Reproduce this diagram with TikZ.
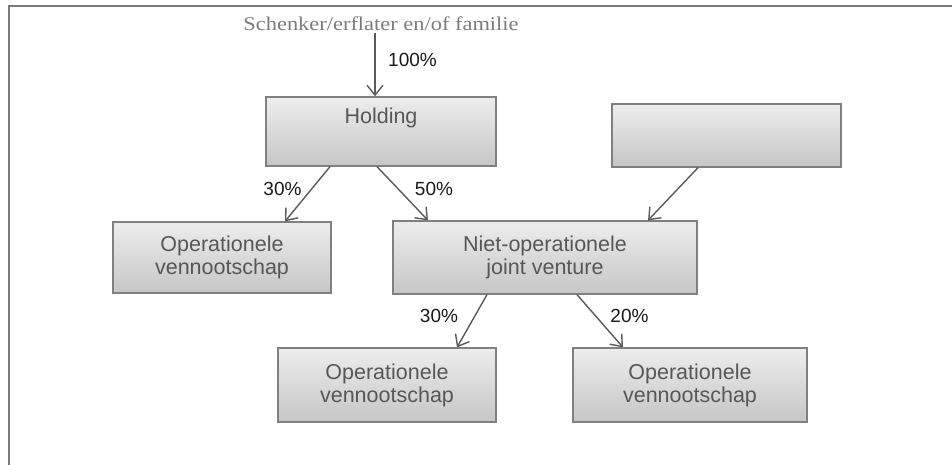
\documentclass[tikz,border=0pt]{standalone}
\usepackage{fontspec}
\setmainfont{Liberation Sans}
\newfontfamily\titlefont[FakeStretch=1.15]{Liberation Serif}
\usetikzlibrary{arrows.meta,shadows,calc}
\definecolor{frameline}{HTML}{7A7A7A}
\definecolor{boxline}{HTML}{808080}
\definecolor{boxtop}{HTML}{EDEDED}
\definecolor{boxbot}{HTML}{C6C6C6}
\definecolor{boxtextcol}{HTML}{575757}
\definecolor{conncol}{HTML}{5A5A5A}
\definecolor{titlecol}{HTML}{7C7C7C}
\tikzset{
  box/.style={draw=boxline, line width=1.3pt, top color=boxtop, bottom color=boxbot,
    inner sep=0pt, align=center, text=boxtextcol,
    font=\fontsize{21.5}{23}\selectfont,
    drop shadow={shadow xshift=0.8pt, shadow yshift=-1.2pt, opacity=0.35, fill=black}},
  boxtext/.style={text=boxtextcol, font=\fontsize{21.5}{23}\selectfont, inner sep=0pt},
  pct/.style={text=black!90, font=\fontsize{19}{21}\selectfont, inner sep=0pt},
  titletext/.style={text=titlecol, font=\titlefont\fontsize{19.5}{21}\selectfont, inner sep=0pt},
  conn/.style={draw=conncol, line width=1.4pt,
    -{Straight Barb[length=10pt, width=16pt, line width=1.4pt]}}
}
\begin{document}
\begin{tikzpicture}[x=1pt, y=-1pt]
\useasboundingbox (0,0) rectangle (952,465);
% page frame
\draw[frameline, line width=2pt] (9,465) -- (9,6.5) -- (952,6.5);

% owner
\node[titletext, anchor=base] (src) at (381,31) {Schenker/erflater en/of familie};

% boxes
\node[box, minimum width=230pt, minimum height=69pt] (hold) at (381,131.5) {};
\node[boxtext, anchor=base] (holdtxt) at (381,124) {Holding};
\node[box, minimum width=229pt, minimum height=63pt] (other) at (726.5,135.5) {};
\node[box, minimum width=218pt, minimum height=71pt] (op1) at (222,257.5) {Operationele\\vennootschap};
\node[box, minimum width=304pt, minimum height=73pt] (jv) at (545,257.5) {Niet-operationele\\joint venture};
\node[box, minimum width=218pt, minimum height=74pt] (op2) at (387,385) {Operationele\\vennootschap};
\node[box, minimum width=234pt, minimum height=74pt] (op3) at (690,385) {Operationele\\vennootschap};

% ownership arrows
\draw[conn, shorten <=2pt] ([xshift=-6pt]src.south) -- ([xshift=-6pt]hold.north);
\draw[conn] ([xshift=-51pt]hold.south) -- ([xshift=63pt]op1.north);
\draw[conn] ([xshift=-4pt]hold.south) -- ([xshift=-117pt]jv.north);
\draw[conn] ([xshift=-28.5pt]other.south) -- ([xshift=103pt]jv.north);
\draw[conn] ([xshift=-58pt]jv.south) -- ([xshift=70pt]op2.north);
\draw[conn] ([xshift=32pt]jv.south) -- ([xshift=-67pt]op3.north);

% percentages
\node[pct, anchor=base west] (p100) at (388,67) {100\%};
\node[pct, anchor=base] (p30a) at (282.5,195) {30\%};
\node[pct, anchor=base] (p50) at (434,195) {50\%};
\node[pct, anchor=base] (p30b) at (439,322) {30\%};
\node[pct, anchor=base] (p20) at (629.5,322) {20\%};
\end{tikzpicture}
\end{document}
